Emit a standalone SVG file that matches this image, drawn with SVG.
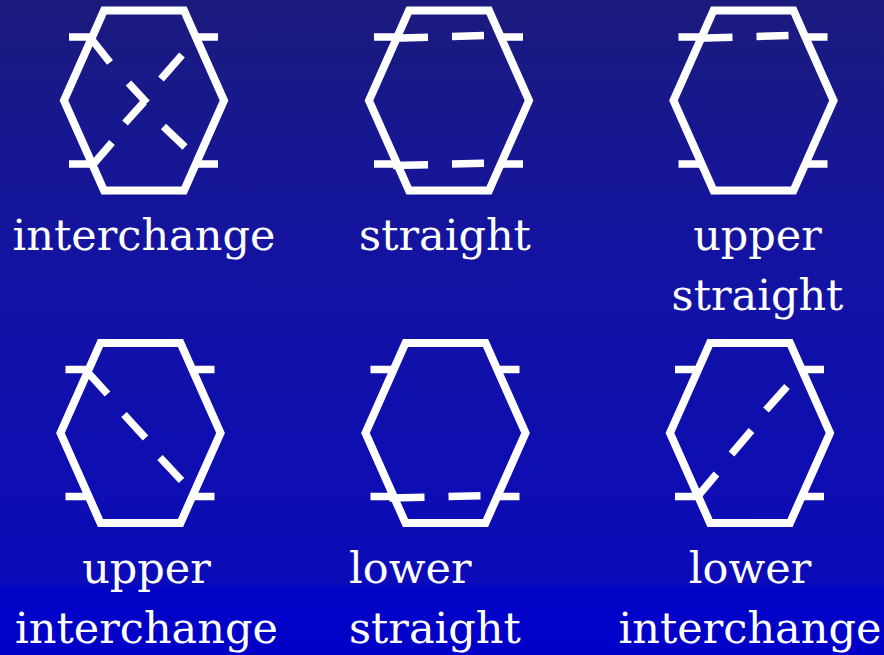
<svg xmlns="http://www.w3.org/2000/svg" width="884" height="655" viewBox="0 0 884 655">
  <defs>
    <linearGradient id="bg" x1="0" y1="0" x2="0" y2="1">
      <stop offset="0" stop-color="#1b1b7d"/>
      <stop offset="0.4" stop-color="#1313a2"/>
      <stop offset="0.89" stop-color="#0b0bb9"/>
      <stop offset="0.9" stop-color="#0202c6"/>
      <stop offset="1" stop-color="#0000c9"/>
    </linearGradient>
    <path id="hex" d="M-40,-90 H40 L80,0 L40,90 H-40 L-80,0 Z"/>
    <path id="stubs" d="M-75,-63.5 H-50 M50,-63.5 H74 M-75,63.5 H-50 M50,63.5 H74"/>
  </defs>
  <style>
    .hex { fill: none; stroke: #ffffff; stroke-width: 8; stroke-linejoin: miter; }
    .stub { fill: none; stroke: #ffffff; stroke-width: 7.5; stroke-linecap: butt; }
    .dash { fill: none; stroke: #ffffff; stroke-width: 7.5; stroke-linecap: butt; }
    .lbl { fill: #ffffff; font-family: "DejaVu Serif", "Liberation Serif", serif; font-size: 43px; }
    .c { text-anchor: middle; }
    .l { text-anchor: start; }
  </style>
  <rect x="0" y="0" width="884" height="655" fill="url(#bg)"/>

  <g id="interchange" transform="translate(144,100.5)">
    <use href="#hex" class="hex"/>
    <use href="#stubs" class="stub"/>
    <path class="dash" d="M-53,-62 L-34,-38 M-15.5,-17.5 L3,2.5 M19.5,26 L41,46.5"/>
    <path class="dash" d="M-51,64 L-32,42 M-19,22.5 L0,1.5 M17,-21.5 L38,-45.5"/>
  </g>
  <g id="straight" transform="translate(449,100.5)">
    <use href="#hex" class="hex"/>
    <use href="#stubs" class="stub"/>
    <path class="dash" d="M-56,-62.3 L-21,-63.2 M3,-64 L35,-65"/>
    <path class="dash" d="M-56,64.9 L-21,64.2 M3,63.6 L35,62.8"/>
  </g>
  <g id="upper-straight" transform="translate(753.5,100.5)">
    <use href="#hex" class="hex"/>
    <use href="#stubs" class="stub"/>
    <path class="dash" d="M-56,-62.3 L-21,-63.2 M3,-64 L35,-65"/>
  </g>
  <g id="upper-interchange" transform="translate(140.5,433)">
    <use href="#hex" class="hex"/>
    <use href="#stubs" class="stub"/>
    <path class="dash" d="M-53,-61 L-33,-39 M-16.5,-18.5 L5,5 M19.5,24.5 L41,47.5"/>
  </g>
  <g id="lower-straight" transform="translate(445.5,433)">
    <use href="#hex" class="hex"/>
    <use href="#stubs" class="stub"/>
    <path class="dash" d="M-56,64.9 L-21,64.2 M3,63.6 L35,62.8"/>
  </g>
  <g id="lower-interchange" transform="translate(750,433)">
    <use href="#hex" class="hex"/>
    <use href="#stubs" class="stub"/>
    <path class="dash" d="M-52,63 L-33.5,41 M-18.5,21 L1.5,-2.5 M16,-23 L37,-46.5"/>
  </g>

  <g id="labels">
    <text class="lbl c" x="144" y="250">interchange</text>
    <text class="lbl c" x="445" y="250">straight</text>
    <text class="lbl c" x="757.5" y="250">upper</text>
    <text class="lbl c" x="757.5" y="310">straight</text>
    <text class="lbl c" x="146.5" y="583">upper</text>
    <text class="lbl c" x="146.5" y="643">interchange</text>
    <text class="lbl l" x="349" y="583">lower</text>
    <text class="lbl l" x="349" y="643">straight</text>
    <text class="lbl c" x="750" y="583">lower</text>
    <text class="lbl c" x="750" y="643">interchange</text>
  </g>
  <g id="connectors"/>
</svg>
